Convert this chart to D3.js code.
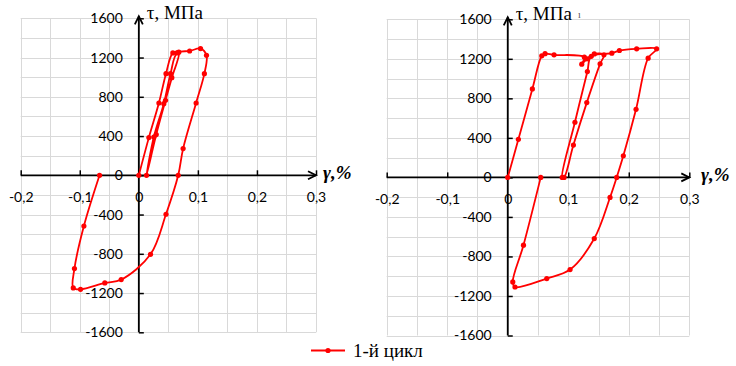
<!DOCTYPE html>
<html><head><meta charset="utf-8">
<script src="https://cdn.jsdelivr.net/npm/d3@7"></script>
<style>
html,body{margin:0;padding:0;background:#fff;}
svg{display:block;}
</style>
</head><body>
<svg id="chart" width="736" height="366"></svg>
<script>
// ---- data ----
const xTicks = [-0.2, -0.1, 0, 0.1, 0.2, 0.3];
const xTickLabels = ["-0,2", "-0,1", "0", "0,1", "0,2", "0,3"];
const yTicks = [-1600, -1200, -800, -400, 0, 400, 800, 1200, 1600];
const yTickLabels = ["-1600", "-1200", "-800", "-400", "0", "400", "800", "1200", "1600"];
const seriesName = "1-й цикл";
const yTitle = "τ, МПа";
const xTitle = "γ,%";

// left panel (γ, τ)
const leftGamma = [0, 0.017, 0.034, 0.046, 0.0576, 0.0677, 0.0559, 0.0452, 0.0295, 0.013,
  0.0254, 0.0423, 0.0537, 0.065, 0.086, 0.1045, 0.1146, 0.111, 0.097, 0.075, 0.0667,
  0.046, 0.0198, -0.0298, -0.0576, -0.0987, -0.111, -0.109, -0.093, -0.0665];
const leftTau = [0, 384, 737, 1036, 1247, 1255, 995, 764, 415, 0,
  390, 730, 1036, 1247, 1267, 1291, 1223, 1036, 737, 272, 0,
  -397, -805, -1063, -1097, -1162, -1148, -951, -517, 0];

// right panel (γ, τ)
const rightGamma = [0, 0.0176, 0.0407, 0.0562, 0.0617, 0.0765, 0.1266, 0.1223, 0.131, 0.143,
  0.159, 0.1526, 0.1306, 0.1085, 0.093, 0.090, 0.111, 0.1316, 0.138, 0.172, 0.1845, 0.213, 0.246,
  0.232, 0.212, 0.191, 0.180, 0.169, 0.143, 0.103, 0.0645, 0.012, 0.0083, 0.026, 0.0545];
const rightTau = [0, 385, 895, 1230, 1252, 1240, 1217, 1146, 1200, 1250,
  1240, 1149, 757, 327, 0, 0, 558, 1071, 1225, 1257, 1284, 1301, 1301,
  1207, 689, 219, 0, -203, -619, -933, -1024, -1109, -1058, -686, 0];

// ---- drawing ----
const svg = d3.select("#chart");
const red = "#ff0000";
const numFont = "Lato, 'Open Sans', sans-serif";
const serif = "'Liberation Serif', 'DejaVu Serif', serif";

function panel(opts, gam, tau) {
  const x = d3.scaleLinear().domain([-0.2, 0.3]).range([opts.x0, opts.x1]);
  const y = d3.scaleLinear().domain([-1600, 1600]).range([opts.y0, opts.y1]);
  const g = svg.append("g");

  // grid
  const gx = d3.range(-0.2, 0.3001, 0.05);
  const gy = d3.range(-1600, 1601, 200);
  g.append("g").selectAll("line").data(gx).join("line")
    .attr("x1", d => Math.round(x(d)) + 0.5).attr("x2", d => Math.round(x(d)) + 0.5)
    .attr("y1", y(1600)).attr("y2", y(-1600))
    .attr("stroke", "#d9d9d9").attr("stroke-width", 1);
  g.append("g").selectAll("line").data(gy).join("line")
    .attr("y1", d => Math.round(y(d)) + 0.5).attr("y2", d => Math.round(y(d)) + 0.5)
    .attr("x1", x(-0.2)).attr("x2", x(0.3))
    .attr("stroke", "#d9d9d9").attr("stroke-width", 1);

  // x axis
  const xa = d3.axisBottom(x).tickValues(xTicks)
    .tickFormat((d, i) => xTickLabels[i]).tickSize(-5).tickPadding(17);
  const xg = g.append("g").attr("transform", `translate(0,${y(0)})`).call(xa);
  xg.select(".domain").remove();
  xg.selectAll(".tick line").attr("stroke", "#000").attr("stroke-width", 1.5);
  xg.selectAll("text").attr("font-family", numFont).attr("font-size", 14).attr("fill", "#000");

  // y axis
  const ya = d3.axisLeft(y).tickValues(yTicks)
    .tickFormat((d, i) => yTickLabels[i]).tickSize(-5).tickPadding(16);
  const yg = g.append("g").attr("transform", `translate(${x(0)},0)`).call(ya);
  yg.select(".domain").remove();
  yg.selectAll(".tick line").attr("stroke", "#000").attr("stroke-width", 1.5);
  yg.selectAll("text").attr("font-family", numFont).attr("font-size", 14).attr("fill", "#000");

  // axis lines with arrows
  const ax = g.append("g").attr("stroke", "#000").attr("stroke-width", 1.8).attr("fill", "none");
  ax.append("line").attr("x1", x(-0.2)).attr("x2", x(0.3)).attr("y1", y(0)).attr("y2", y(0));
  ax.append("path").attr("d", `M${x(0.3) - 8},${y(0) - 4}L${x(0.3)},${y(0)}L${x(0.3) - 8},${y(0) + 4}`);
  ax.append("line").attr("x1", x(0)).attr("x2", x(0)).attr("y1", y(-1600)).attr("y2", y(1600) - 2);
  ax.append("path").attr("d", `M${x(0) - 4},${y(1600) + 6}L${x(0)},${y(1600) - 2}L${x(0) + 4},${y(1600) + 6}`);

  // titles
  g.append("text").attr("x", x(0) + 8).attr("y", y(1600) + 1)
    .attr("font-family", serif).attr("font-size", 19).text(yTitle);
  g.append("text").attr("x", opts.xt).attr("y", y(0) + 4)
    .attr("font-family", serif).attr("font-size", 19).attr("font-style", "italic")
    .attr("font-weight", "bold").text(xTitle);

  // series
  const pts = gam.map((d, i) => [d, tau[i]]);
  const line = d3.line().x(d => x(d[0])).y(d => y(d[1])).curve(d3.curveCatmullRom.alpha(0.5));
  g.append("path").attr("d", line(pts)).attr("fill", "none")
    .attr("stroke", red).attr("stroke-width", 1.8);
  g.append("g").selectAll("circle").data(pts).join("circle")
    .attr("cx", d => x(d[0])).attr("cy", d => y(d[1])).attr("r", 2.6).attr("fill", red);
  return {x, y, g};
}

panel({x0: 20.7, x1: 316, y0: 332.3, y1: 18.3, xt: 323}, leftGamma, leftTau);
const rp = panel({x0: 386.7, x1: 689.3, y0: 335.5, y1: 19.3, xt: 701}, rightGamma, rightTau);
rp.g.append("text").attr("x", 578).attr("y", 18).attr("font-family", serif)
  .attr("font-size", 10).attr("fill", "#555").text("ı");

// legend
const lg = svg.append("g");
lg.append("line").attr("x1", 311).attr("x2", 345).attr("y1", 350.5).attr("y2", 350.5)
  .attr("stroke", red).attr("stroke-width", 1.8);
lg.append("circle").attr("cx", 328).attr("cy", 350.5).attr("r", 2.6).attr("fill", red);
lg.append("text").attr("x", 353).attr("y", 357).attr("font-family", serif)
  .attr("font-size", 19).text(seriesName);
</script>
</body></html>
